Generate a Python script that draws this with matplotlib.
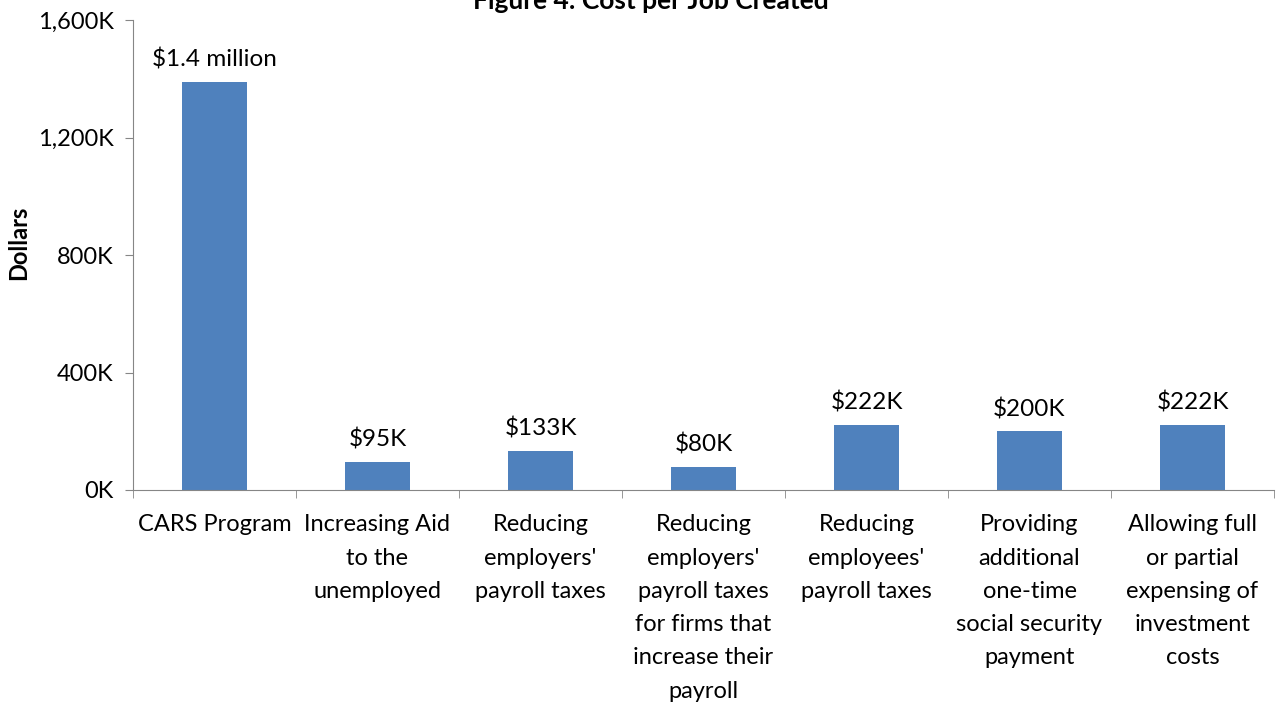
import numpy as np
import matplotlib.pyplot as plt
from matplotlib.ticker import FuncFormatter

categories = ["CARS Program", "Increasing Aid\nto the\nunemployed",
              "Reducing\nemployers'\npayroll taxes",
              "Reducing\nemployers'\npayroll taxes\nfor firms that\nincrease their\npayroll",
              "Reducing\nemployees'\npayroll taxes",
              "Providing\nadditional\none-time\nsocial security\npayment",
              "Allowing full\nor partial\nexpensing of\ninvestment\ncosts"]
values = [1390, 95, 133, 80, 222, 200, 222]  # thousands of dollars
labels = ["$1.4 million", "$95K", "$133K", "$80K", "$222K", "$200K", "$222K"]

plt.rcParams['font.family'] = ['Lato', 'DejaVu Sans']

fig = plt.figure(figsize=(12.78, 7.05), dpi=100)
ax = fig.add_axes([133 / 1278, 1 - 490 / 705, 1141 / 1278, 470 / 705])

x = np.arange(len(categories))
ax.bar(x, values, width=0.4, color='#4F81BD')

for xi, v, lab in zip(x, values, labels):
    ax.text(xi, v + 38, lab, ha='center', va='bottom', fontsize=17.5)

ax.set_xlim(-0.5, len(categories) - 0.5)
ax.set_ylim(0, 1600)
ax.set_yticks([0, 400, 800, 1200, 1600])
ax.yaxis.set_major_formatter(FuncFormatter(lambda v, p: f"{int(v):,}K"))
ax.set_xticks(x)
ax.set_xticklabels(categories, fontsize=17, linespacing=1.72, va='top')
ax.set_xticks(np.arange(-0.5, len(categories)), minor=True)
ax.tick_params(axis='x', which='major', length=0, pad=17.5)
ax.tick_params(axis='x', which='minor', length=6, color='#868686')
ax.tick_params(axis='y', length=6, color='#868686', labelsize=17, pad=8)

for s in ['top', 'right']:
    ax.spines[s].set_visible(False)
for s in ['left', 'bottom']:
    ax.spines[s].set_color('#868686')

ax.set_ylabel('Dollars', fontsize=17, fontweight='bold')
ax.yaxis.set_label_coords(-0.090, 0.526)
fig.text(651 / 1278, 1 - 9 / 705, 'Figure 4: Cost per Job Created', ha='center',
         va='baseline', fontsize=19, fontweight='bold')

fig.savefig('out.png', dpi=100)
